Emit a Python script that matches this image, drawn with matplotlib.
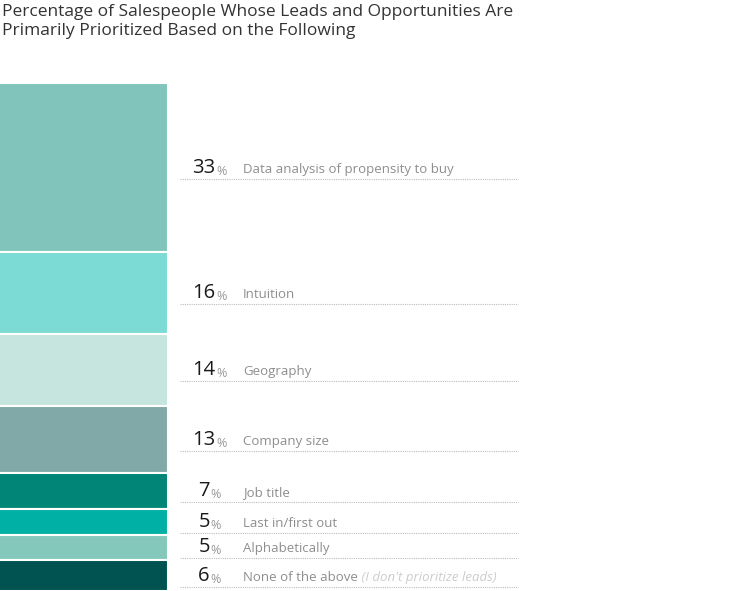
import matplotlib
matplotlib.use("Agg")
import matplotlib.pyplot as plt
import matplotlib.transforms as mtransforms
import numpy as np

# data
labels = ["Data analysis of propensity to buy", "Intuition", "Geography", "Company size",
          "Job title", "Last in/first out", "Alphabetically", "None of the above"]
values = [33, 16, 14, 13, 7, 5, 5, 6]
colors = ["#80c4bc", "#7ddbd5", "#c5e5de", "#80a9a8", "#008576", "#00b0a4", "#84c8bb", "#005350"]
note = "(I don't prioritize leads)"

plt.rcParams['font.family'] = ['Open Sans', 'DejaVu Sans']

fig = plt.figure(figsize=(7.5, 5.91), dpi=100)
fig.patch.set_facecolor("white")
ax = fig.add_axes([0, 0, 1, 508 / 591])
ax.set_xlim(0, 750)
total = sum(values)
ax.set_ylim(total, 0)
ax.axis("off")

bottoms = np.concatenate([[0], np.cumsum(values)[:-1]])
ax.bar(-3, values, bottom=bottoms, width=171, align="edge", color=colors,
       edgecolor="white", linewidth=1.5)

num_off = mtransforms.ScaledTranslation(0, -5 / 100, fig.dpi_scale_trans)
line_off = mtransforms.ScaledTranslation(0, -11 / 100, fig.dpi_scale_trans)

for i, (lab, v, b) in enumerate(zip(labels, values, bottoms)):
    yc = b + v / 2
    t = ax.text(204, yc, str(v), ha="center", va="baseline", fontsize=14.5,
                color="#1a1a1a", transform=ax.transData + num_off)
    ax.annotate("%", xy=(1, 0), xycoords=t, xytext=(0.5, 0), textcoords="offset points",
                ha="left", va="bottom", fontsize=9, color="#9a9a9a")
    lt = ax.text(243, yc, lab, ha="left", va="baseline", fontsize=9.5,
                 color="#8e8e8e", transform=ax.transData + num_off)
    if i == len(labels) - 1:
        ax.annotate(" " + note, xy=(1, 0), xycoords=lt, xytext=(0, 0),
                    textcoords="offset points", ha="left", va="bottom",
                    fontsize=9.5, color="#cccccc", style="italic")
    ax.plot([180, 518], [yc, yc], color="#bcbcbc", linewidth=0.8,
            linestyle=(0, (1, 1)), transform=ax.transData + line_off)

fig.text(0.002, 1 - 4 / 591,
         "Percentage of Salespeople Whose Leads and Opportunities Are\n"
         "Primarily Prioritized Based on the Following",
         ha="left", va="top", fontsize=12.5, color="#333333", linespacing=1.25)

fig.savefig("out.png", dpi=100, facecolor="white")
